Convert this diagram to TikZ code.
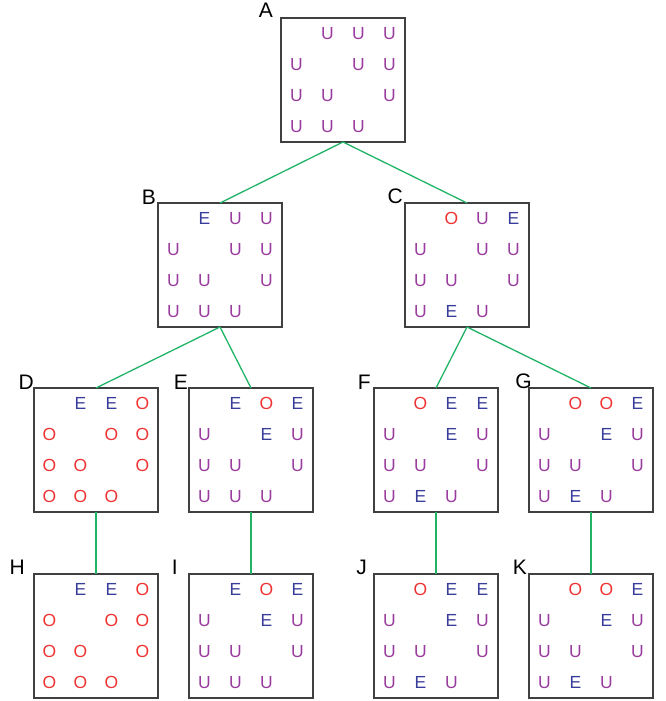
\documentclass[tikz,border=0pt]{standalone}
\usepackage{fontspec}
\setmainfont{Liberation Sans}
\definecolor{tileUcol}{HTML}{9A3C9E}
\definecolor{tileEcol}{HTML}{383C9A}
\definecolor{tileOcol}{HTML}{EE3333}
\definecolor{edgecol}{HTML}{22B466}
\definecolor{framecol}{HTML}{404040}

% one 4x4 board: name, left x, top y, list of row/col/letter
\newcommand{\stateboard}[4]{%
  \node[board] (#1) at ({#2+62},{#3+62}) {};
  \foreach \r/\c/\t in {#4}{%
    \node[tile\t, anchor=base] (#1-\r-\c) at ({#2+15.5+31*\c},{#3+15.5+31*\r+6.2}) {\t};
  }%
}

\begin{document}
\begin{tikzpicture}[x=1pt,y=-1pt,
  board/.style={draw=framecol, line width=1.2pt, minimum size=124pt, inner sep=0pt, outer sep=0pt},
  tile/.style={inner sep=0pt, font=\fontsize{17.5}{17.5}\selectfont},
  tileU/.style={tile, text=tileUcol},
  tileE/.style={tile, text=tileEcol},
  tileO/.style={tile, text=tileOcol},
  lab/.style={inner sep=0pt, anchor=base east, font=\fontsize{21}{21}\selectfont},
  edge/.style={draw=edgecol, line width=1.3pt}]
\useasboundingbox (0,0) rectangle (666,701);

% root
\stateboard{A}{281}{18}{0/1/U,0/2/U,0/3/U,1/0/U,1/2/U,1/3/U,2/0/U,2/1/U,2/3/U,3/0/U,3/1/U,3/2/U}
% second level
\stateboard{B}{158}{203}{0/1/E,0/2/U,0/3/U,1/0/U,1/2/U,1/3/U,2/0/U,2/1/U,2/3/U,3/0/U,3/1/U,3/2/U}
\stateboard{C}{405}{203}{0/1/O,0/2/U,0/3/E,1/0/U,1/2/U,1/3/U,2/0/U,2/1/U,2/3/U,3/0/U,3/1/E,3/2/U}
% third level
\stateboard{D}{34}{388}{0/1/E,0/2/E,0/3/O,1/0/O,1/2/O,1/3/O,2/0/O,2/1/O,2/3/O,3/0/O,3/1/O,3/2/O}
\stateboard{E}{189}{388}{0/1/E,0/2/O,0/3/E,1/0/U,1/2/E,1/3/U,2/0/U,2/1/U,2/3/U,3/0/U,3/1/U,3/2/U}
\stateboard{F}{374}{388}{0/1/O,0/2/E,0/3/E,1/0/U,1/2/E,1/3/U,2/0/U,2/1/U,2/3/U,3/0/U,3/1/E,3/2/U}
\stateboard{G}{529}{388}{0/1/O,0/2/O,0/3/E,1/0/U,1/2/E,1/3/U,2/0/U,2/1/U,2/3/U,3/0/U,3/1/E,3/2/U}
% fourth level
\stateboard{H}{34}{574}{0/1/E,0/2/E,0/3/O,1/0/O,1/2/O,1/3/O,2/0/O,2/1/O,2/3/O,3/0/O,3/1/O,3/2/O}
\stateboard{I}{189}{574}{0/1/E,0/2/O,0/3/E,1/0/U,1/2/E,1/3/U,2/0/U,2/1/U,2/3/U,3/0/U,3/1/U,3/2/U}
\stateboard{J}{374}{574}{0/1/O,0/2/E,0/3/E,1/0/U,1/2/E,1/3/U,2/0/U,2/1/U,2/3/U,3/0/U,3/1/E,3/2/U}
\stateboard{K}{529}{574}{0/1/O,0/2/O,0/3/E,1/0/U,1/2/E,1/3/U,2/0/U,2/1/U,2/3/U,3/0/U,3/1/E,3/2/U}

% board labels
\node[lab] (lA) at (273,18) {A};
\node[lab] (lB) at (156,204) {B};
\node[lab] (lC) at (403,203) {C};
\node[lab] (lD) at (34,389) {D};
\node[lab] (lE) at (188,389) {E};
\node[lab] (lF) at (371,389) {F};
\node[lab] (lG) at (532,388) {G};
\node[lab] (lH) at (25,574) {H};
\node[lab] (lI) at (178,574) {I};
\node[lab] (lJ) at (367,574) {J};
\node[lab] (lK) at (527,574) {K};

% tree edges
\draw[edge] (A.south) -- (B.north);
\draw[edge] (A.south) -- (C.north);
\draw[edge] (B.south) -- (D.north);
\draw[edge] (B.south) -- (E.north);
\draw[edge] (C.south) -- (F.north);
\draw[edge] (C.south) -- (G.north);
\draw[edge] (D.south) -- (H.north);
\draw[edge] (E.south) -- (I.north);
\draw[edge] (F.south) -- (J.north);
\draw[edge] (G.south) -- (K.north);
\end{tikzpicture}
\end{document}
